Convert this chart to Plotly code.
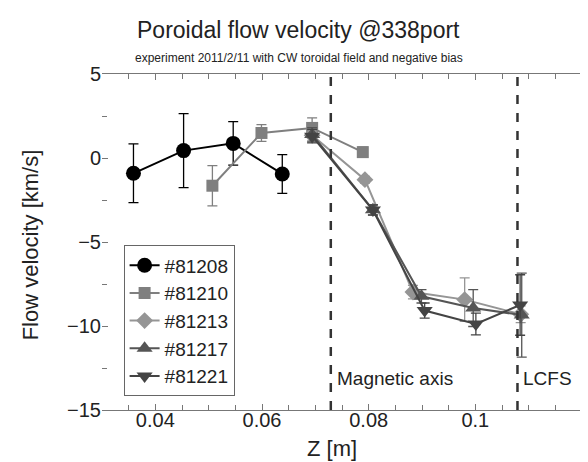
import plotly.graph_objects as go

# shot data: Z position [m], flow velocity [km/s], error [km/s]
z_81208 = [0.0359, 0.0453, 0.0546, 0.0638]
v_81208 = [-0.91, 0.44, 0.87, -0.95]
e_81208 = [1.75, 2.2, 1.3, 1.15]

z_81210 = [0.0507, 0.0599, 0.0694, 0.0789]
v_81210 = [-1.65, 1.49, 1.79, 0.35]
e_81210 = [1.2, 0.5, 0.6, 0.3]

z_81213 = [0.0694, 0.0793, 0.0883, 0.0980, 0.1085]
v_81213 = [1.35, -1.29, -7.98, -8.43, -9.3]
e_81213 = [0.4, 0.2, 0.4, 1.3, 0.5]

z_81217 = [0.0694, 0.0808, 0.0899, 0.0996, 0.1087]
v_81217 = [1.4, -3.08, -8.23, -8.93, -9.35]
e_81217 = [0.4, 0.3, 0.4, 1.1, 2.5]

z_81221 = [0.0694, 0.0808, 0.0905, 0.1001, 0.1084]
v_81221 = [1.3, -3.1, -9.08, -9.88, -8.75]
e_81221 = [0.4, 0.3, 0.45, 0.65, 1.8]

shots = ["#81208", "#81210", "#81213", "#81217", "#81221"]
z_all = [z_81208, z_81210, z_81213, z_81217, z_81221]
v_all = [v_81208, v_81210, v_81213, v_81217, v_81221]
e_all = [e_81208, e_81210, e_81213, e_81217, e_81221]

colors = ["#000000", "#7f7f7f", "#959595", "#555555", "#444444"]
symbols = ["circle", "square", "diamond", "triangle-up", "triangle-down"]
sizes = [15, 12, 13, 14, 14]

# boundaries
z_axis = 0.0729
z_lcfs = 0.1079

fig = go.Figure()

for name, z, v, e, c, s, sz in zip(shots, z_all, v_all, e_all, colors, symbols, sizes):
    fig.add_trace(go.Scatter(
        x=z, y=v, name=name, mode="lines+markers",
        line=dict(color=c, width=2),
        marker=dict(symbol=s, size=sz, color=c),
        error_y=dict(type="data", array=e, color=c, thickness=1.3, width=5),
    ))

for zb in [z_axis, z_lcfs]:
    fig.add_shape(type="line", x0=zb, x1=zb, y0=0, y1=1, xref="x", yref="paper",
                  line=dict(color="#333333", width=2.5, dash="dash"))

# right spine (left spine is not drawn in the original)
fig.add_shape(type="line", x0=1, x1=1, y0=0, y1=1, xref="paper", yref="paper",
              line=dict(color="#777777", width=1))

fig.add_annotation(x=z_axis, y=-13.1, text="Magnetic axis", xref="x", yref="y",
                   xanchor="left", xshift=4, showarrow=False,
                   font=dict(size=19, color="#222222"))
fig.add_annotation(x=z_lcfs, y=-13.1, text="LCFS", xref="x", yref="y",
                   xanchor="left", xshift=4, showarrow=False,
                   font=dict(size=19, color="#222222"))

fig.add_annotation(x=0.41, y=1.0, xref="paper", yref="paper", yanchor="middle", yshift=44,
                   showarrow=False, text="Poroidal flow velocity @338port",
                   font=dict(size=23, color="#222222"))
fig.add_annotation(x=0.41, y=1.0, xref="paper", yref="paper", yanchor="middle", yshift=16,
                   showarrow=False,
                   text="experiment 2011/2/11 with CW toroidal field and negative bias",
                   font=dict(size=12, color="#222222"))
fig.add_annotation(x=-0.15, y=0.49, xref="paper", yref="paper", xanchor="center",
                   yanchor="middle", showarrow=False,
                   text="Flow velocity [km/s]", textangle=-90,
                   font=dict(size=22, color="#222222"))
fig.add_annotation(x=0.48, y=0, xref="paper", yref="paper", yanchor="middle", yshift=-38,
                   showarrow=False, text="Z [m]", font=dict(size=22, color="#222222"))

fig.update_layout(
    width=588, height=462,
    margin=dict(l=94, r=14, t=66, b=60),
    plot_bgcolor="white", paper_bgcolor="white",
    font=dict(family="Liberation Sans, Arial, sans-serif", size=20, color="#222222"),
    showlegend=True,
    legend=dict(x=0.045, y=0.49, xanchor="left", yanchor="top",
                bgcolor="white", bordercolor="#666666", borderwidth=1,
                font=dict(size=19), tracegroupgap=0, itemwidth=30),
)

fig.update_xaxes(
    range=[0.03, 0.12], tickvals=[0.04, 0.06, 0.08, 0.1], ticktext=["0.04", "0.06", "0.08", "0.1"],
    showgrid=False, zeroline=False, showline=True, mirror="ticks", linecolor="#777777",
    ticks="inside", ticklen=6, tickcolor="#777777", ticklabelstandoff=-8,
    minor=dict(dtick=0.005, tick0=0.03, ticks="inside", ticklen=5, tickcolor="#777777"),
)
fig.update_yaxes(
    range=[-15, 5], dtick=5, showgrid=False, zeroline=False, showline=False,
    ticks="inside", ticklen=6, tickcolor="#777777",
    minor=dict(dtick=2.5, ticks="inside", ticklen=5, tickcolor="#777777"),
)

fig.write_html("out.html")
